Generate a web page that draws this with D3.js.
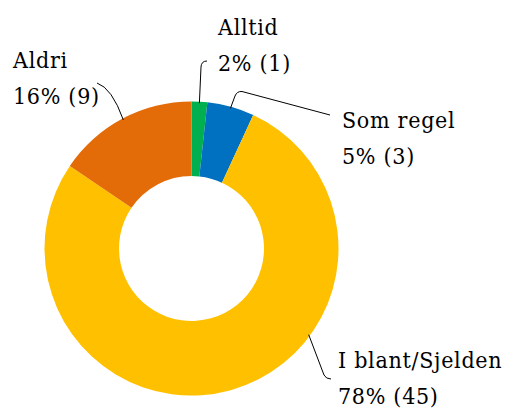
<!DOCTYPE html>
<html><head><meta charset="utf-8">
<script src="https://cdn.jsdelivr.net/npm/d3@7"></script>
<style>body{margin:0;background:#fff}svg{display:block}
.lbl{font-family:"DejaVu Serif Condensed","DejaVu Serif",serif;font-stretch:condensed;}</style>
</head><body>
<script>
const categories = ["Alltid", "Som regel", "I blant/Sjelden", "Aldri"];
const counts = [1, 3, 45, 9];
const percentLabels = ["2%", "5%", "78%", "16%"];
const colors = ["#00B050", "#0070C0", "#FFC000", "#E36C09"];

const W = 506, H = 408, cx = 191.5, cy = 248.5, R = 147, r = 72.5;
const svg = d3.select("body").append("svg").attr("width", W).attr("height", H);
const g = svg.append("g").attr("transform", `translate(${cx},${cy})`);

const pie = d3.pie().sort(null).value(d => d)(counts);
const arc = d3.arc().innerRadius(r).outerRadius(R);
g.selectAll("path.slice").data(pie).enter().append("path")
  .attr("class", "slice").attr("d", arc)
  .attr("fill", (d, i) => colors[i]);

const anchorAngle = [
  (pie[0].startAngle + pie[0].endAngle) / 2,
  (pie[1].startAngle + pie[1].endAngle) / 2,
  2.205,
  (pie[3].startAngle + pie[3].endAngle) / 2
];
const pt = (a, rad) => [cx + rad * Math.sin(a), cy - rad * Math.cos(a)];
const labelPos = [[218, 35], [342, 128], [338, 368], [13, 68]];
const leaderRest = [
  s => `M${s[0]},${s[1]} L201,67 Q201.3,61 207,61`,
  s => `M${s[0]},${s[1]} L235,96 Q237,91 242,91.5 L330,115`,
  s => `M${s[0]},${s[1]} L324,375 Q326,379 331,379`,
  s => `M${s[0]},${s[1]} Q112,88 97,83`
];
anchorAngle.forEach((a, i) => {
  const s = pt(a, R - 1.5);
  svg.append("path").attr("d", leaderRest[i](s))
    .attr("fill", "none").attr("stroke", "#000").attr("stroke-width", 1);
});

labelPos.forEach((p, i) => {
  const t = svg.append("text").attr("class", "lbl").attr("x", p[0]).attr("y", p[1])
    .attr("font-size", 23).attr("letter-spacing", 0.7).attr("fill", "#000");
  t.append("tspan").attr("x", p[0]).attr("y", p[1]).text(categories[i]);
  t.append("tspan").attr("x", p[0]).attr("y", p[1] + 35.5)
    .text(`${percentLabels[i]} (${counts[i]})`);
});
</script>
</body></html>
